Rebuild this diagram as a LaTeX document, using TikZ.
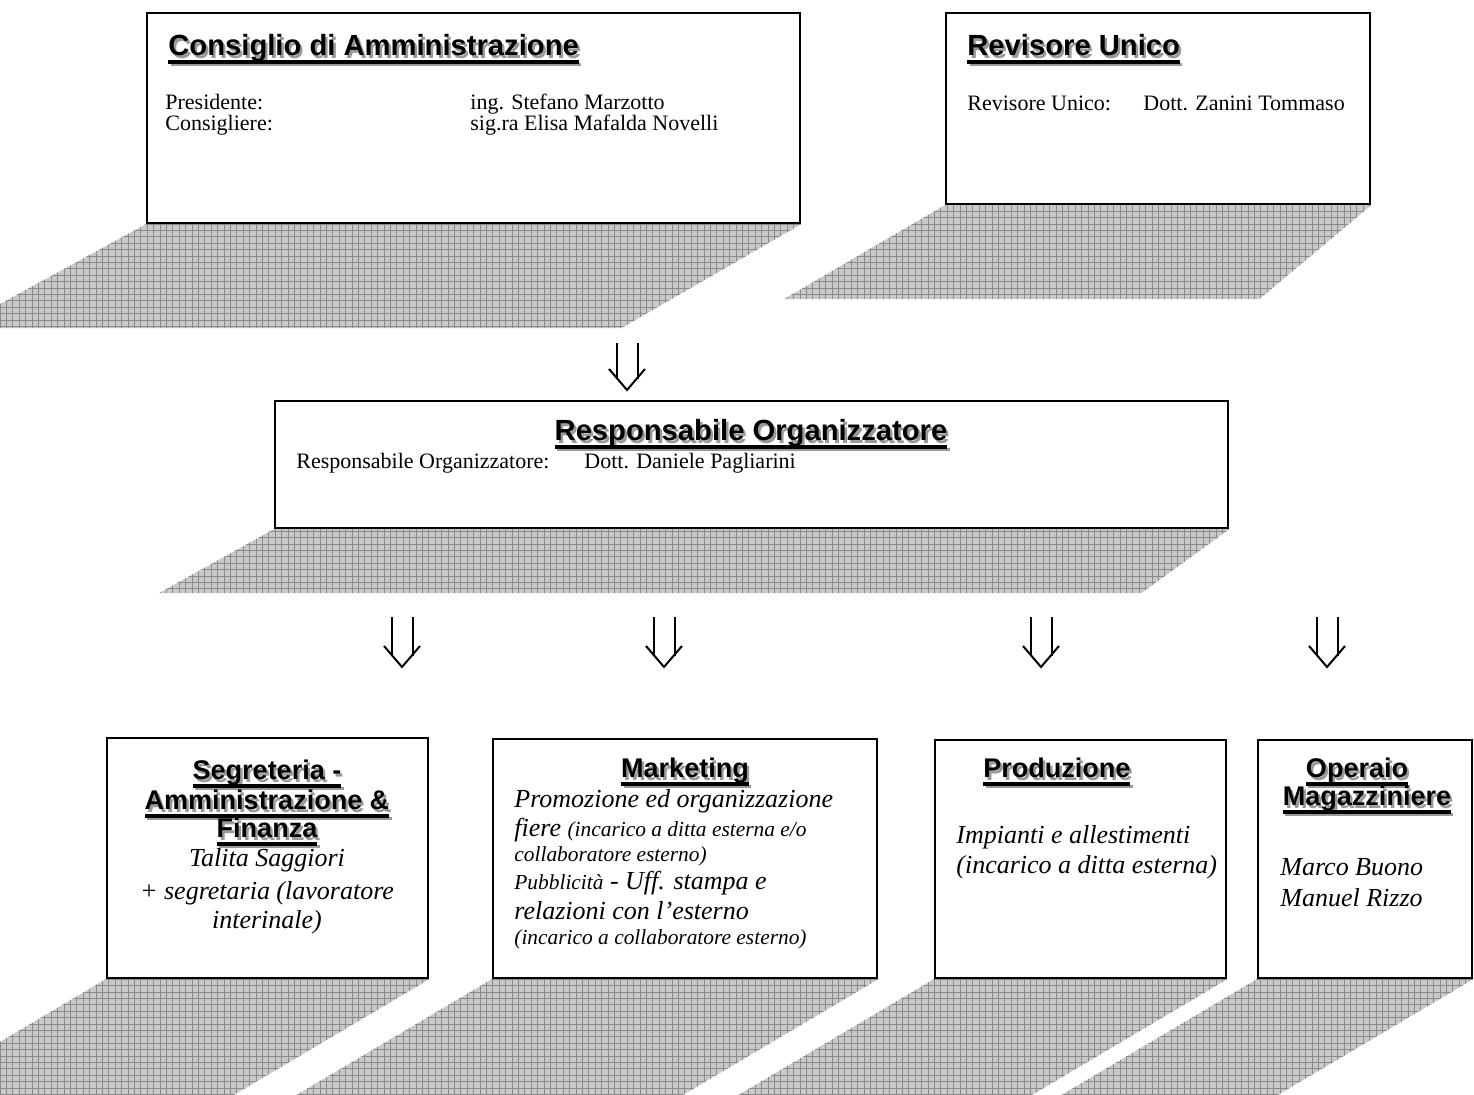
\documentclass[tikz,border=0pt]{standalone}
\usepackage{fontspec}
\setmainfont{Liberation Serif}
\newfontfamily\ttlfam[UprightFont={* Bold}]{Liberation Sans}
\usetikzlibrary{calc,backgrounds,fit}

%% underlined title with a grey drop shadow
\newcommand{\ttlline}[1]{\setbox0\hbox{#1}\rlap{\rule[-3.8pt]{\wd0}{1.7pt}}\box0}
\newcommand{\ttl}[1]{\rlap{\kern1.2pt\raisebox{-1.2pt}{\color{black!40}\ttlline{#1}}}\ttlline{#1}}
\newcommand{\smalltxt}{\fontsize{10.7}{12}\selectfont}

%% hatched perspective shadow under a box: node, left dx, right dx, depth
\newcommand{\boxshadow}[4]{%
  \begin{scope}
    \clip (#1.south west) -- (#1.south east) -- ($(#1.south east)+(#3,#4)$)
      -- ($(#1.south west)+(#2,#4)$) -- cycle;
    \fill[shadowfill] (-300,1300) rectangle (1800,-100);
    \draw[shadowgrid] (-300,1300) grid (1800,-100);
  \end{scope}}

\begin{document}
\begin{tikzpicture}
[x=0.5pt,y=-0.5pt,
%
box/.style={draw=black,line width=1.2pt,fill=white,inner sep=0pt},
shadowfill/.style={black!21},
shadowgrid/.style={draw=black!46,line width=0.4pt,step=3.2pt},
darrow/.style={double,double distance=9.5pt,line width=1pt,shorten >=5.5pt},
vtip/.style={line width=1pt,line join=miter},
%
txt/.style={inner sep=0pt,anchor=base west,font=\fontsize{11}{13}\selectfont},
ttop/.style={inner sep=0pt,anchor=base west,font=\ttlfam\fontsize{14.6}{17}\selectfont},
tbot/.style={inner sep=0pt,anchor=base,font=\ttlfam\fontsize{13.5}{15}\selectfont},
itl/.style={inner sep=0pt,anchor=base west,font=\itshape\fontsize{13}{15}\selectfont},
sml/.style={font=\itshape\smalltxt}]
%
\useasboundingbox (0,0) rectangle (1474,1095);
%
%% boxes
\node (cda)  [box,fit={(147,13) (800,223)}] {};
\node (rev)  [box,fit={(946,13) (1370,204)}] {};
\node (resp) [box,fit={(275,401) (1228,528)}] {};
\node (segr) [box,fit={(107,738) (428,978)}] {};
\node (mkt)  [box,fit={(493,739) (877,978)}] {};
\node (prod) [box,fit={(935,740) (1226,978)}] {};
\node (oper) [box,fit={(1258,740) (1472,978)}] {};
%
%% shadows
\begin{pgfonlayer}{background}
\boxshadow{cda}{-190}{-180}{104}
\boxshadow{rev}{-161}{-112}{94}
\boxshadow{resp}{-115}{-88}{64}
\foreach \b in {segr,mkt,prod,oper}
  {\boxshadow{\b}{-253}{-253}{150}}
\end{pgfonlayer}
%
%% consiglio di amministrazione
\node (cdaT) [ttop] at (168,56) {\ttl{Consiglio di Amministrazione}};
\node (cdaR1) [txt] at (165,110) {Presidente:};
\node (cdaN1) [txt] at (470,110) {ing. Stefano Marzotto};
\node (cdaR2) [txt] at (165,131) {Consigliere:};
\node (cdaN2) [txt] at (470,131) {sig.ra Elisa Mafalda Novelli};
%
%% revisore
\node (revT) [ttop] at (967,56) {\ttl{Revisore Unico}};
\node (revR) [txt] at (967,111) {Revisore Unico:};
\node (revN) [txt] at (1143,111) {Dott. Zanini Tommaso};
%
%% responsabile
\node (respT) [ttop,anchor=base] at (751,441) {\ttl{Responsabile Organizzatore}};
\node (respR) [txt] at (296,469) {Responsabile Organizzatore:};
\node (respN) [txt] at (584,469) {Dott. Daniele Pagliarini};
%
%% segreteria
\node (segT1) [tbot] at (267,780) {\ttl{Segreteria -}};
\node (segT2) [tbot] at (267,810) {\ttl{Amministrazione \&}};
\node (segT3) [tbot] at (267,838) {\ttl{Finanza}};
\node (segP1) [itl,anchor=base] at (267,867) {Talita Saggiori};
\node (segP2) [itl,anchor=base] at (267,900) {+ segretaria (lavoratore};
\node (segP3) [itl,anchor=base] at (267,929) {interinale)};
%
%% marketing
\node (mktT) [tbot] at (685,778) {\ttl{Marketing}};
\node (mkt1) [itl] at (514,808) {Promozione ed organizzazione};
\node (mkt2) [itl] at (514,837) {fiere {\smalltxt (incarico a ditta esterna e/o}};
\node (mkt3) [itl,sml] at (514,862) {collaboratore esterno)};
\node (mkt4) [itl] at (514,890) {{\smalltxt Pubblicità} - Uff. stampa e};
\node (mkt5) [itl] at (514,920) {relazioni con l’esterno};
\node (mkt6) [itl,sml] at (514,945) {(incarico a collaboratore esterno)};
%
%% produzione
\node (prodT) [tbot,anchor=base west] at (983,778) {\ttl{Produzione}};
\node (prod1) [itl] at (956,844) {Impianti e allestimenti};
\node (prod2) [itl] at (956,874) {(incarico a ditta esterna)};
%
%% operaio
\node (operT1) [tbot] at (1357,778) {\ttl{Operaio}};
\node (operT2) [tbot] at (1367,806) {\ttl{Magazziniere}};
\node (oper1) [itl] at (1280,876) {Marco Buono};
\node (oper2) [itl] at (1280,907) {Manuel Rizzo};
%
%% arrows
\coordinate (a0s) at (627,343); \coordinate (a0e) at (627,390);
\draw[darrow] (a0s) -- (a0e);
\draw[vtip] ($(a0e)+(-18,-21)$) -- (a0e) -- ($(a0e)+(18,-21)$);
\foreach \x [count=\i] in {402,664,1041,1327} {
  \coordinate (a\i s) at (\x,617); \coordinate (a\i e) at (\x,667);
  \draw[darrow] (a\i s) -- (a\i e);
  \draw[vtip] ($(a\i e)+(-18,-21)$) -- (a\i e) -- ($(a\i e)+(18,-21)$);
}
\end{tikzpicture}
\end{document}
